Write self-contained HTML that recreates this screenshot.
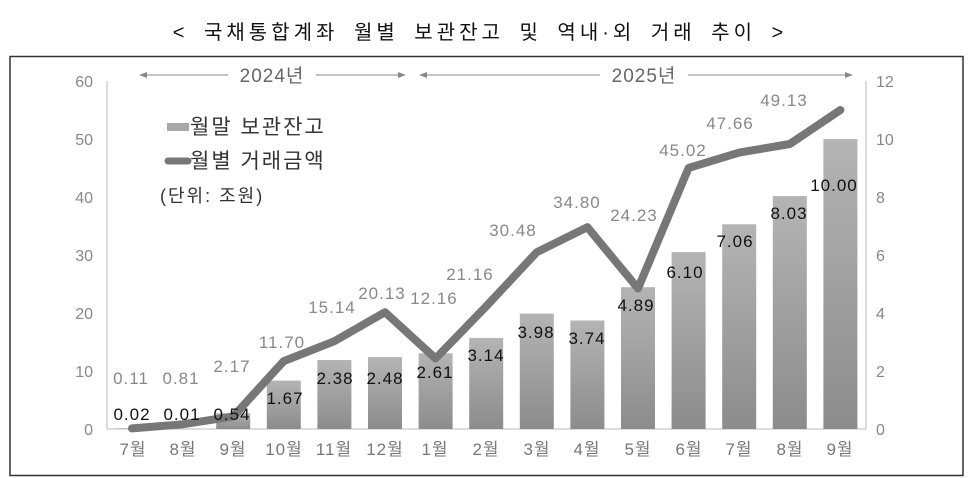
<!DOCTYPE html>
<html><head><meta charset="utf-8"><style>
body{margin:0;background:#fff;}
svg{display:block;font-family:"Liberation Sans","Noto Sans CJK KR",sans-serif;}
</style></head><body>
<svg width="975" height="478" xmlns="http://www.w3.org/2000/svg">
<defs>
<linearGradient id="g" x1="0" y1="0" x2="0" y2="1"><stop offset="0" stop-color="#b4b4b4"/><stop offset="1" stop-color="#8c8c8c"/></linearGradient>
<marker id="a" markerWidth="8" markerHeight="6" refX="7" refY="3" orient="auto"><path d="M0,0L8,3L0,6z" fill="#888"/></marker>
</defs>
<text x="480" y="39" font-size="20" text-anchor="middle" fill="#111" letter-spacing="4" word-spacing="6">&lt; 국채통합계좌 월별 보관잔고 및 역내·외 거래 추이 &gt;</text>
<rect x="10" y="56.5" width="953" height="419" fill="none" stroke="#333" stroke-width="1.5"/>
<g stroke="#bbb" stroke-width="1">
<line x1="107" y1="81" x2="107" y2="429"/>
<line x1="866" y1="81" x2="866" y2="429"/>
<line x1="107" y1="429" x2="866" y2="429"/>
</g>
<g font-size="16" fill="#888" text-anchor="end">
<text x="93" y="87">60</text><text x="93" y="145">50</text><text x="93" y="203">40</text><text x="93" y="261">30</text><text x="93" y="319">20</text><text x="93" y="377">10</text><text x="93" y="435">0</text>
</g>
<g font-size="16" fill="#888">
<text x="876" y="87">12</text><text x="876" y="145">10</text><text x="876" y="203">8</text><text x="876" y="261">6</text><text x="876" y="319">4</text><text x="876" y="377">2</text><text x="876" y="435">0</text>
</g>
<g stroke="#888" stroke-width="1">
<line x1="228" y1="75" x2="140" y2="75" marker-end="url(#a)"/>
<line x1="316" y1="75" x2="405" y2="75" marker-end="url(#a)"/>
<line x1="600" y1="75" x2="420" y2="75" marker-end="url(#a)"/>
<line x1="688" y1="75" x2="852" y2="75" marker-end="url(#a)"/>
</g>
<text x="272" y="82" font-size="19" fill="#666" text-anchor="middle" letter-spacing="1">2024년</text>
<text x="644" y="82" font-size="19" fill="#666" text-anchor="middle" letter-spacing="1">2025년</text>
<g fill="url(#g)">
<rect x="115" y="428.4" width="34" height="0.6"/>
<rect x="165.6" y="428.7" width="34" height="0.3"/>
<rect x="216.2" y="413.3" width="34" height="15.7"/>
<rect x="266.8" y="380.6" width="34" height="48.4"/>
<rect x="317.4" y="360" width="34" height="69"/>
<rect x="368" y="357.1" width="34" height="71.9"/>
<rect x="418.6" y="353.3" width="34" height="75.7"/>
<rect x="469.2" y="337.9" width="34" height="91.1"/>
<rect x="519.8" y="313.6" width="34" height="115.4"/>
<rect x="570.4" y="320.5" width="34" height="108.5"/>
<rect x="621" y="287.2" width="34" height="141.8"/>
<rect x="671.6" y="252.1" width="34" height="176.9"/>
<rect x="722.2" y="224.3" width="34" height="204.7"/>
<rect x="772.8" y="196.1" width="34" height="232.9"/>
<rect x="823.4" y="139" width="34" height="290"/>
</g>
<polyline fill="none" stroke="#777" stroke-width="8" stroke-linejoin="round" stroke-linecap="round"
points="132,428.4 182.6,424.3 233.2,416.4 283.8,361.1 334.4,341.2 385,312.2 435.6,358.5 486.2,306.3 536.8,252.2 587.4,227.2 638,288.5 688.6,167.9 739.2,152.6 789.8,144 840.4,110"/>
<g font-size="17" fill="#888" text-anchor="middle" letter-spacing="1">
<text x="131" y="384">0.11</text><text x="181" y="384">0.81</text><text x="232" y="372">2.17</text>
<text x="282" y="348">11.70</text><text x="332" y="313">15.14</text><text x="382" y="299">20.13</text>
<text x="434" y="304">12.16</text><text x="470" y="280">21.16</text><text x="513" y="236">30.48</text>
<text x="577" y="208">34.80</text><text x="634" y="221">24.23</text><text x="683" y="156">45.02</text>
<text x="730" y="129">47.66</text><text x="784" y="106">49.13</text>
</g>
<g font-size="17" fill="#111" text-anchor="middle" letter-spacing="1">
<text x="132" y="420">0.02</text><text x="182" y="420">0.01</text><text x="232" y="420">0.54</text>
<text x="285" y="404">1.67</text><text x="335" y="384">2.38</text><text x="385" y="384">2.48</text>
<text x="435" y="378">2.61</text><text x="486" y="361">3.14</text><text x="536" y="338">3.98</text>
<text x="587" y="344">3.74</text><text x="636" y="311">4.89</text><text x="685" y="278">6.10</text>
<text x="735" y="247">7.06</text><text x="789" y="219">8.03</text><text x="834" y="191">10.00</text>
</g>
<g font-size="17" fill="#777" text-anchor="middle" letter-spacing="1">
<text x="133" y="455">7월</text><text x="183" y="455">8월</text><text x="233" y="455">9월</text><text x="284" y="455">10월</text><text x="334" y="455">11월</text><text x="385" y="455">12월</text><text x="435" y="455">1월</text><text x="486" y="455">2월</text><text x="537" y="455">3월</text><text x="587" y="455">4월</text><text x="638" y="455">5월</text><text x="689" y="455">6월</text><text x="739" y="455">7월</text><text x="790" y="455">8월</text><text x="840" y="455">9월</text>
</g>
<rect x="167" y="123" width="22" height="8" fill="#a8a8a8"/>
<text x="190" y="134" font-size="21" fill="#333" letter-spacing="2">월말 보관잔고</text>
<line x1="168" y1="161" x2="188" y2="161" stroke="#777" stroke-width="7" stroke-linecap="round"/>
<text x="190" y="168" font-size="21" fill="#333" letter-spacing="2">월별 거래금액</text>
<text x="160" y="202" font-size="18" fill="#333" letter-spacing="2">(단위: 조원)</text>
</svg>
</body></html>
